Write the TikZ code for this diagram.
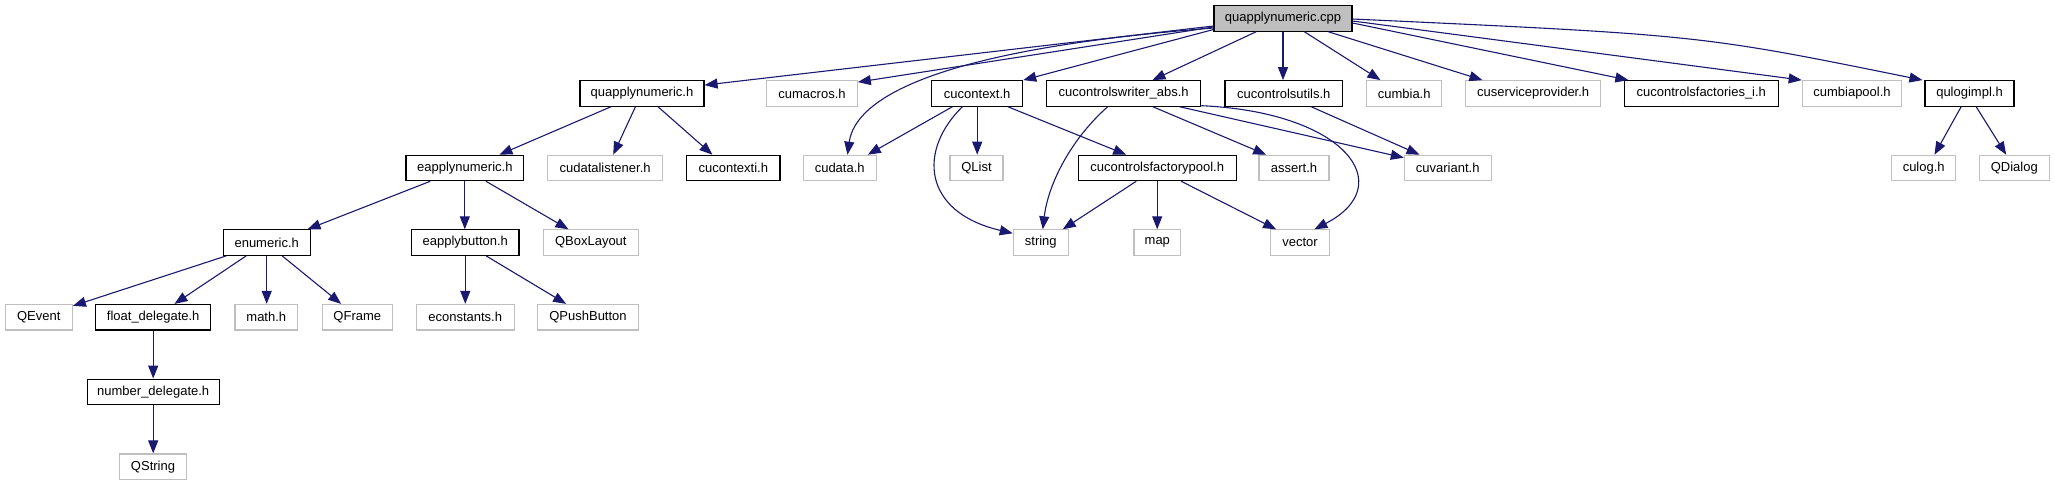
\documentclass[tikz,border=0pt]{standalone}
\usepackage{fontspec}
\setmainfont{Liberation Sans}
\usetikzlibrary{arrows.meta}
\definecolor{edgeblue}{HTML}{191970}
\definecolor{extgray}{HTML}{BFBFBF}
\begin{document}
\begin{tikzpicture}[x=1pt,y=-1pt,
  box/.style={draw=black, line width=1.1pt, minimum height=25.5pt, inner sep=0pt,
              font=\fontsize{13}{15}\selectfont, anchor=center},
  extbox/.style={box, draw=extgray},
  rootbox/.style={box, fill=extgray},
  dep/.style={draw=edgeblue, line width=1.1pt, -{Triangle[length=13pt,width=10pt]}}]
\useasboundingbox (0,0) rectangle (2055,485);

% row A
\node[rootbox, minimum width=138pt] (cpp) at (1283,18.5) {quapplynumeric.cpp};
% row B
\node[box, minimum width=124pt] (qh) at (642,93.4) {quapplynumeric.h};
\node[extbox, minimum width=90.6pt] (cumacros) at (812,93.4) {cumacros.h};
\node[box, minimum width=91pt] (cucontext) at (977.2,93.4) {cucontext.h};
\node[box, minimum width=154pt] (writer) at (1123.7,93.4) {cucontrolswriter\_abs.h};
\node[box, minimum width=117.7pt] (utils) at (1283.8,93.4) {cucontrolsutils.h};
\node[extbox, minimum width=75pt] (cumbia) at (1404.2,93.4) {cumbia.h};
\node[extbox, minimum width=135pt] (servprov) at (1533.2,93.4) {cuserviceprovider.h};
\node[box, minimum width=154pt] (factories) at (1701.3,93.4) {cucontrolsfactories\_i.h};
\node[extbox, minimum width=99.5pt] (cumbiapool) at (1852,93.4) {cumbiapool.h};
\node[box, minimum width=89pt] (qlog) at (1969.5,93.4) {qulogimpl.h};
% row C
\node[box, minimum width=117.7pt] (ean) at (464.8,168) {eapplynumeric.h};
\node[extbox, minimum width=114.7pt] (cudl) at (605.1,168) {cudatalistener.h};
\node[box, minimum width=93.3pt] (cucontexti) at (733.3,168) {cucontexti.h};
\node[extbox, minimum width=72.7pt] (cudata) at (839.7,168) {cudata.h};
\node[extbox, minimum width=53pt] (qlist) at (976.5,168) {QList};
\node[box, minimum width=157.7pt] (fp) at (1157.2,168) {cucontrolsfactorypool.h};
\node[extbox, minimum width=70pt] (assert) at (1294,168) {assert.h};
\node[extbox, minimum width=86.7pt] (cuvariant) at (1447.7,168) {cuvariant.h};
\node[extbox, minimum width=64pt] (culog) at (1923.7,168) {culog.h};
\node[extbox, minimum width=70pt] (qdialog) at (2014.3,168) {QDialog};
% row D
\node[box, minimum width=86.7pt] (enumeric) at (266.7,242.6) {enumeric.h};
\node[box, minimum width=107.3pt] (eab) at (465.3,242.6) {eapplybutton.h};
\node[extbox, minimum width=95pt] (qbox) at (590.8,242.6) {QBoxLayout};
\node[extbox, minimum width=55pt] (string) at (1040.8,242.6) {string};
\node[extbox, minimum width=46.7pt] (map) at (1157.3,242.6) {map};
\node[extbox, minimum width=58.7pt] (vector) at (1300,242.6) {vector};
% row E
\node[extbox, minimum width=67.3pt] (qevent) at (38.7,317.2) {QEvent};
\node[box, minimum width=115pt] (float) at (153.2,317.2) {float\_delegate.h};
\node[extbox, minimum width=62.7pt] (math) at (266.3,317.2) {math.h};
\node[extbox, minimum width=70pt] (qframe) at (357.3,317.2) {QFrame};
\node[extbox, minimum width=97.7pt] (econst) at (465.2,317.2) {econstants.h};
\node[extbox, minimum width=100.6pt] (qpush) at (588,317.2) {QPushButton};
% row F, G
\node[box, minimum width=132.3pt] (number) at (153.2,391.8) {number\_delegate.h};
\node[extbox, minimum width=66.6pt] (qstring) at (153,466.7) {QString};

% edges from cpp
\draw[dep] ([yshift=-7.5pt]cpp.west) -- ([yshift=-5pt]qh.north east);
\draw[dep] ([yshift=-8.5pt]cpp.west) -- ([yshift=-2pt]cumacros.north east);
\draw[dep] ([yshift=-9.5pt]cpp.west) .. controls (930,50) and (855,100) .. ([xshift=44.7pt]cudata.north west);
\draw[dep] ([yshift=-11pt]cpp.west) -- (cucontext.north east);
\draw[dep] ([xshift=42.6pt]cpp.south west) -- ([xshift=106.3pt]writer.north west);
\draw[dep] (cpp.south) -- (cpp.south |- utils.north);
\draw[dep] ([xshift=91pt]cpp.south west) -- ([xshift=14.3pt]cumbia.north west);
\draw[dep] ([xshift=115pt]cpp.south west) -- ([xshift=17.3pt]servprov.north west);
\draw[dep] ([yshift=-4.5pt]cpp.east) -- ([xshift=4.6pt]factories.north west);
\draw[dep] ([yshift=-2.5pt]cpp.east) -- (cumbiapool.north west);
\draw[dep] ([yshift=-0.5pt]cpp.east) .. controls (1700,35) .. ([xshift=-2pt]qlog.north west);

% quapplynumeric.h
\draw[dep] ([xshift=31.6pt]qh.south west) -- ([xshift=94pt]ean.north west);
\draw[dep] ([xshift=56pt]qh.south west) -- ([xshift=66pt]cudl.north west);
\draw[dep] ([xshift=78.5pt]qh.south west) -- ([xshift=26.3pt]cucontexti.north west);
% eapplynumeric.h
\draw[dep] ([xshift=24.8pt]ean.south west) -- ([xshift=84.7pt]enumeric.north west);
\draw[dep] (ean.south) -- (ean.south |- eab.north);
\draw[dep] ([xshift=80.6pt]ean.south west) -- ([xshift=25.7pt]qbox.north west);
% enumeric.h
\draw[dep] ([xshift=3.4pt]enumeric.south west) -- ([yshift=-2pt]qevent.north east);
\draw[dep] ([xshift=23.4pt]enumeric.south west) -- ([xshift=79.3pt]float.north west);
\draw[dep] (enumeric.south) -- (enumeric.south |- math.north);
\draw[dep] ([xshift=59.4pt]enumeric.south west) -- ([xshift=19.4pt]qframe.north west);
\draw[dep] (float.south) -- (float.south |- number.north);
\draw[dep] (number.south) -- (number.south |- qstring.north);
% eapplybutton.h
\draw[dep] (eab.south) -- (eab.south |- econst.north);
\draw[dep] ([xshift=75pt]eab.south west) -- ([xshift=29pt]qpush.north west);
% cucontext.h
\draw[dep] ([xshift=21.3pt]cucontext.south west) -- ([xshift=65pt]cudata.north west);
\draw[dep] (cucontext.south) -- (cucontext.south |- qlist.north);
\draw[dep] ([xshift=31.3pt]cucontext.south west) .. controls (918,150) and (922,212) .. ([yshift=-4pt]string.north west);
\draw[dep] ([xshift=76.6pt]cucontext.south west) -- ([xshift=48.4pt]fp.north west);
% cucontrolswriter_abs.h
\draw[dep] ([xshift=61.6pt]writer.south west) .. controls (1070,140) and (1048,185) .. ([xshift=30pt]string.north west);
\draw[dep] ([xshift=106.6pt]writer.south west) -- ([xshift=7.7pt]assert.north west);
\draw[dep] ([xshift=133.3pt]writer.south west) -- ([yshift=-3pt]cuvariant.north west);
\draw[dep] ([yshift=1pt]writer.south east) .. controls (1345,112) and (1400,185) .. ([xshift=44.3pt]vector.north west);
% cucontrolsutils.h
\draw[dep] ([xshift=86.7pt]utils.south west) -- ([xshift=15.7pt]cuvariant.north west);
% cucontrolsfactorypool.h
\draw[dep] ([xshift=58.4pt]fp.south west) -- ([xshift=50pt]string.north west);
\draw[dep] (fp.south) -- (fp.south |- map.north);
\draw[dep] ([xshift=103.4pt]fp.south west) -- ([xshift=6pt]vector.north west);
% qulogimpl.h
\draw[dep] ([xshift=36.7pt]qlog.south west) -- ([xshift=43.3pt]culog.north west);
\draw[dep] ([xshift=51.7pt]qlog.south west) -- ([xshift=27.4pt]qdialog.north west);
\end{tikzpicture}
\end{document}
